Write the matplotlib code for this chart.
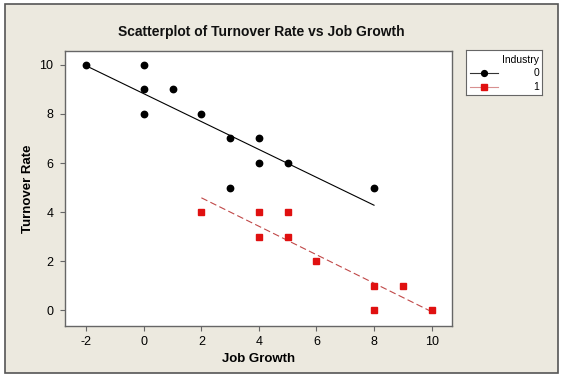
import numpy as np
import matplotlib
matplotlib.use("Agg")
import matplotlib.pyplot as plt
from matplotlib.patches import Rectangle
from matplotlib.lines import Line2D

plt.rcParams['font.family'] = ['Liberation Sans', 'DejaVu Sans']
plt.rcParams['axes.unicode_minus'] = False

# Industry 0
x0 = [-2, 0, 0, 0, 1, 2, 3, 3, 4, 4, 5, 8]
y0 = [10, 10, 9, 8, 9, 8, 7, 5, 7, 6, 6, 5]
# Industry 1
x1 = [2, 4, 4, 5, 5, 6, 8, 8, 9, 10]
y1 = [4, 4, 3, 4, 3, 2, 1, 0, 1, 0]

xticks = [-2, 0, 2, 4, 6, 8, 10]
yticks = [0, 2, 4, 6, 8, 10]

W, H = 568, 384
bg = '#ECE9DF'
red = '#E01010'

fig = plt.figure(figsize=(W / 100, H / 100), dpi=100)
fig.patch.set_facecolor('white')

# beige panel with frame
fig.patches.append(Rectangle((5 / W, 1 - 373 / H), 553 / W, 369 / H, transform=fig.transFigure,
                             facecolor=bg, edgecolor='#555555', linewidth=1.2, zorder=-10))

ax = fig.add_axes([65 / W, 1 - 326 / H, (452 - 65) / W, (326 - 51) / H])
ax.set_facecolor('white')
ax.set_xlim(-2.74, 10.71)
ax.set_ylim(-0.65, 10.57)
ax.set_xticks(xticks)
ax.set_yticks(yticks)
ax.tick_params(direction='out', length=3.5, width=0.8, color='#666666', labelsize=9, pad=5)
ax.tick_params(axis='x', pad=4)
for s in ax.spines.values():
    s.set_color('#666666')
    s.set_linewidth(1.0)

# regression fits
for xs, ys, col, ls in [(x0, y0, 'black', '-'), (x1, y1, '#C04848', (0, (6, 3)))]:
    b, a = np.polyfit(xs, ys, 1)
    xx = np.array([min(xs), max(xs)])
    ax.plot(xx, a + b * xx, color=col, linestyle=ls, linewidth=0.8, zorder=2)

ax.plot(x0, y0, 'o', color='black', markersize=4.6, linestyle='none', zorder=3)
ax.plot(x1, y1, 's', color=red, markersize=4.4, linestyle='none', zorder=3)

ax.set_xlabel('Job Growth', fontsize=9.5, fontweight='bold', labelpad=3)
ax.set_ylabel('Turnover Rate', fontsize=9.5, fontweight='bold', labelpad=4)
fig.text(261 / W, 1 - 32 / H, 'Scatterplot of Turnover Rate vs Job Growth',
         ha='center', va='center', fontsize=10, fontweight='bold', color='#111111')

# legend box
lax = fig.add_axes([466 / W, 1 - 95 / H, (542 - 466) / W, (95 - 50) / H])
lax.set_xlim(0, 76)
lax.set_ylim(45, 0)
lax.set_xticks([])
lax.set_yticks([])
lax.set_facecolor('white')
for s in lax.spines.values():
    s.set_color('#666666')
    s.set_linewidth(0.8)
lax.text(73, 10, 'Industry', ha='right', va='center', fontsize=7.5)
lax.add_line(Line2D([4, 32], [23, 23], color='#333333', linewidth=0.8))
lax.plot([18], [23], 'o', color='black', markersize=4.2)
lax.text(73, 23, '0', ha='right', va='center', fontsize=7.5)
lax.add_line(Line2D([4, 32], [37, 37], color='#D89090', linewidth=0.8))
lax.plot([18], [37], 's', color=red, markersize=4.2)
lax.text(73, 37, '1', ha='right', va='center', fontsize=7.5)

fig.savefig('out.png', dpi=100, facecolor=fig.get_facecolor())
